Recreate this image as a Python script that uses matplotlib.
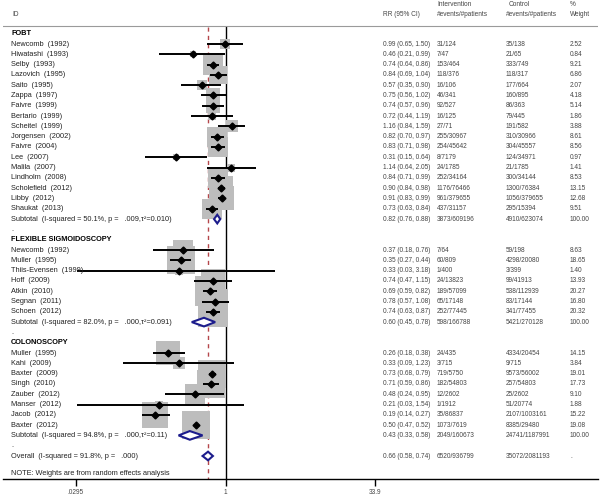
import matplotlib
matplotlib.use('Agg')
import matplotlib.pyplot as plt
import numpy as np
from matplotlib.patches import Polygon
from matplotlib.ticker import NullLocator
from matplotlib.transforms import blended_transform_factory

plt.rcParams['font.family'] = ['Liberation Sans', 'DejaVu Sans']

# --- data -------------------------------------------------------------
fobt_ids = ['Newcomb  (1992)', 'Hiwatashi  (1993)', 'Selby  (1993)', 'Lazovich  (1995)',
            'Saito  (1995)', 'Zappa  (1997)', 'Faivre  (1999)', 'Bertario  (1999)',
            'Scheitel  (1999)', 'Jorgensen  (2002)', 'Faivre  (2004)', 'Lee  (2007)',
            'Malila  (2007)', 'Lindholm  (2008)', 'Scholefield  (2012)', 'Libby  (2012)',
            'Shaukat  (2013)']
fobt_rr = [0.99, 0.46, 0.74, 0.84, 0.57, 0.75, 0.74, 0.72, 1.16, 0.82, 0.83, 0.31, 1.14, 0.84, 0.90, 0.91, 0.73]
fobt_lo = [0.65, 0.21, 0.64, 0.69, 0.35, 0.56, 0.57, 0.44, 0.84, 0.70, 0.71, 0.15, 0.64, 0.71, 0.84, 0.83, 0.63]
fobt_hi = [1.50, 0.99, 0.86, 1.04, 0.90, 1.02, 0.96, 1.19, 1.59, 0.97, 0.98, 0.64, 2.05, 0.99, 0.98, 0.99, 0.84]
fobt_int = ['31/124', '7/47', '153/464', '118/376', '16/106', '46/341', '92/527', '16/125', '27/71',
            '255/30967', '254/45642', '8/7179', '24/1785', '252/34164', '1176/76466', '961/379655', '437/31157']
fobt_ctrl = ['35/138', '21/65', '333/749', '118/317', '177/664', '160/895', '86/363', '79/445', '191/582',
             '310/30966', '304/45557', '124/34971', '21/1785', '300/34144', '1300/76384', '1056/379655', '295/15394']
fobt_wt = [2.52, 0.84, 9.21, 6.86, 2.07, 4.18, 5.14, 1.86, 3.88, 8.61, 8.56, 0.97, 1.41, 8.53, 13.15, 12.68, 9.51]
fobt_sub = [0.82, 0.76, 0.88]
fobt_sub_n = ['3873/609196', '4910/623074']
fobt_het = 'Subtotal  (I-squared = 50.1%, p =   .009,τ²=0.010)'

fs_ids = ['Newcomb  (1992)', 'Muller  (1995)', 'Thiis-Evensen  (1999)', 'Hoff  (2009)',
          'Atkin  (2010)', 'Segnan  (2011)', 'Schoen  (2012)']
fs_rr = [0.37, 0.35, 0.33, 0.74, 0.69, 0.78, 0.74]
fs_lo = [0.18, 0.27, 0.03, 0.47, 0.59, 0.57, 0.63]
fs_hi = [0.76, 0.44, 3.18, 1.15, 0.82, 1.08, 0.87]
fs_int = ['7/64', '60/809', '1/400', '24/13823', '189/57099', '65/17148', '252/77445']
fs_ctrl = ['59/198', '4298/20080', '3/399', '99/41913', '538/112939', '83/17144', '341/77455']
fs_wt = [8.63, 18.65, 1.40, 13.93, 20.27, 16.80, 20.32]
fs_sub = [0.60, 0.45, 0.78]
fs_sub_n = ['598/166788', '5421/270128']
fs_het = 'Subtotal  (I-squared = 82.0%, p =   .000,τ²=0.091)'

col_ids = ['Muller  (1995)', 'Kahi  (2009)', 'Baxter  (2009)', 'Singh  (2010)',
           'Zauber  (2012)', 'Manser  (2012)', 'Jacob  (2012)', 'Baxter  (2012)']
col_rr = [0.26, 0.33, 0.73, 0.71, 0.48, 0.21, 0.19, 0.50]
col_lo = [0.18, 0.09, 0.68, 0.59, 0.24, 0.03, 0.14, 0.47]
col_hi = [0.38, 1.23, 0.79, 0.86, 0.95, 1.54, 0.27, 0.52]
col_int = ['24/435', '3/715', '719/5750', '182/54803', '12/2602', '1/1912', '35/86837', '1073/7619']
col_ctrl = ['4334/20454', '9/715', '9573/56002', '257/54803', '25/2602', '51/20774', '2107/1003161', '8385/29480']
col_wt = [14.15, 3.84, 19.01, 17.73, 9.10, 1.88, 15.22, 19.08]
col_sub = [0.43, 0.33, 0.58]
col_sub_n = ['2049/160673', '24741/1187991']
col_het = 'Subtotal  (I-squared = 94.8%, p =   .000,τ²=0.11)'

overall = [0.66, 0.58, 0.74]
overall_n = ['6520/936799', '35072/2081193']
overall_het = 'Overall  (I-squared = 91.8%, p =   .000)'

groups = [
    ('FOBT', fobt_ids, fobt_rr, fobt_lo, fobt_hi, fobt_int, fobt_ctrl, fobt_wt, fobt_sub, fobt_sub_n, fobt_het),
    ('FLEXIBLE SIGMOIDOSCOPY', fs_ids, fs_rr, fs_lo, fs_hi, fs_int, fs_ctrl, fs_wt, fs_sub, fs_sub_n, fs_het),
    ('COLONOSCOPY', col_ids, col_rr, col_lo, col_hi, col_int, col_ctrl, col_wt, col_sub, col_sub_n, col_het),
]

# --- layout helpers ---------------------------------------------------
W, H = 600, 498
ROW0, ROWH = 33.7, 10.3        # pixel y of row 0, pixel height of a row
PX_LOG = 42.5                  # pixels per log unit on the x axis
X_ONE = 225.7                  # pixel x of RR = 1
AXIS_Y = 479


def row_of(py):
    return (py - ROW0) / ROWH


def log_of(px):
    return np.exp((px - X_ONE) / PX_LOG)


fig = plt.figure(figsize=(W / 100, H / 100), dpi=100)
ax = fig.add_axes([3 / W, 1 - AXIS_Y / H, 595 / W, AXIS_Y / H])
ax.set_xscale('log')
ax.set_xlim(log_of(3), log_of(598))
ax.set_ylim(row_of(AXIS_Y), row_of(0))

tr = blended_transform_factory(fig.transFigure, ax.transData)
TXT = '#222222'
GREY = '#444444'
NAVY = '#1c1c8c'
lab_fs = 5.3
col_fs = 4.7

X_ID, X_RR, X_INT, X_CTRL, X_WT = 11, 383, 437, 506, 570


def cols(r, est, ev_i, ev_c, wt):
    ax.text(X_RR / W, r, est, transform=tr, fontsize=col_fs, color=GREY, va='center')
    ax.text(X_INT / W, r, ev_i, transform=tr, fontsize=col_fs, color=GREY, va='center')
    ax.text(X_CTRL / W, r, ev_c, transform=tr, fontsize=col_fs, color=GREY, va='center')
    ax.text(X_WT / W, r, wt, transform=tr, fontsize=col_fs, color=GREY, va='center')


def diamond(r, rr, lo, hi, half=0.42):
    ax.add_patch(Polygon([[lo, r], [rr, r - half], [hi, r], [rr, r + half]], closed=True,
                         facecolor='white', edgecolor=NAVY, lw=1.5, zorder=4))


r = 0
for name, ids, rr, lo, hi, ev_i, ev_c, wt, sub, sub_n, het in groups:
    ax.text(X_ID / W, r, name, transform=tr, fontsize=lab_fs, color='black', weight='bold', va='center')
    r += 1
    for i in range(len(ids)):
        ax.scatter(rr[i], r, s=22 * wt[i], marker='s', color='#bdbdbd', linewidths=0, zorder=1)
        ax.plot([lo[i], hi[i]], [r, r], color='black', lw=1.4, zorder=2, solid_capstyle='butt')
        ax.plot(rr[i], r, 'D', ms=3.5, color='black', zorder=3)
        ax.text(X_ID / W, r, ids[i], transform=tr, fontsize=lab_fs, color=TXT, va='center')
        cols(r, f'{rr[i]:.2f} ({lo[i]:.2f}, {hi[i]:.2f})', ev_i[i], ev_c[i], f'{wt[i]:.2f}')
        r += 1
    diamond(r, *sub)
    ax.text(X_ID / W, r, het, transform=tr, fontsize=lab_fs, color=TXT, va='center')
    cols(r, f'{sub[0]:.2f} ({sub[1]:.2f}, {sub[2]:.2f})', sub_n[0], sub_n[1], '100.00')
    r += 1
    ax.text(X_ID / W, r, '.', transform=tr, fontsize=lab_fs, color=TXT, va='center')
    r += 1

# overall row follows the last "." row
diamond(r, *overall)
ax.text(X_ID / W, r, overall_het, transform=tr, fontsize=lab_fs, color=TXT, va='center')
cols(r, f'{overall[0]:.2f} ({overall[1]:.2f}, {overall[2]:.2f})', overall_n[0], overall_n[1], '.')

ax.text(X_ID / W, row_of(473), 'NOTE: Weights are from random effects analysis',
        transform=tr, fontsize=lab_fs, color=TXT, va='center')

# reference lines
top = row_of(27)
ax.plot([1, 1], [top, row_of(AXIS_Y)], color='black', lw=1.0, zorder=0)
ax.plot([overall[0], overall[0]], [top, row_of(AXIS_Y)], color='#b5474b', lw=1.0,
        dashes=(3, 3), zorder=0)

# header
ax.axhline(row_of(26), color='#9a9a9a', lw=0.8)
ax.text(12 / W, row_of(14), 'ID', transform=tr, fontsize=col_fs, color=GREY, va='center')
ax.text(X_RR / W, row_of(14), 'RR (95% CI)', transform=tr, fontsize=col_fs, color=GREY, va='center')
ax.text(X_INT / W, row_of(4), 'Intervention', transform=tr, fontsize=col_fs, color=GREY, va='center')
ax.text(X_INT / W, row_of(14), '#events/#patients', transform=tr, fontsize=col_fs, color=GREY, va='center')
ax.text(509 / W, row_of(4), 'Control', transform=tr, fontsize=col_fs, color=GREY, va='center')
ax.text(X_CTRL / W, row_of(14), '#events/#patients', transform=tr, fontsize=col_fs, color=GREY, va='center')
ax.text(X_WT / W, row_of(4), '%', transform=tr, fontsize=col_fs, color=GREY, va='center')
ax.text(X_WT / W, row_of(14), 'Weight', transform=tr, fontsize=col_fs, color=GREY, va='center')

# axis
for s in ['top', 'left', 'right']:
    ax.spines[s].set_visible(False)
ax.spines['bottom'].set_linewidth(1.0)
ax.set_yticks([])
ax.set_xticks([0.0295, 1, 33.9])
ax.set_xticklabels(['.0295', '1', '33.9'])
ax.xaxis.set_minor_locator(NullLocator())
ax.tick_params(axis='x', length=5, width=1.0, labelsize=col_fs, pad=2, colors='black', labelcolor=GREY)

fig.savefig('out.png', dpi=100)
